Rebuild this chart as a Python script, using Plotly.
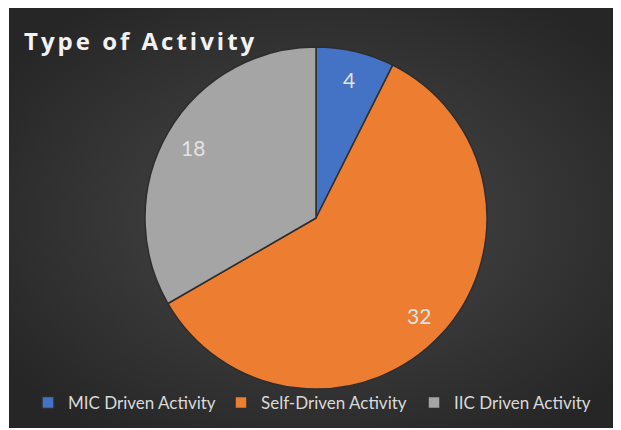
import base64
import math
import plotly.graph_objects as go

categories = ["MIC Driven Activity", "Self-Driven Activity", "IIC Driven Activity"]
values = [4, 32, 18]
colors = ["#4472C4", "#ED7D31", "#A5A5A5"]
title_text = "Type of Activity"

W, H = 621, 430

svg = (
    '<svg xmlns="http://www.w3.org/2000/svg" width="620" height="420">'
    '<defs><radialGradient id="g" cx="50%" cy="50%" r="62%">'
    '<stop offset="0" stop-color="#4a4a4a"/><stop offset="1" stop-color="#262626"/>'
    '</radialGradient></defs><rect width="620" height="420" fill="url(#g)"/></svg>'
)
bg_src = "data:image/svg+xml;base64," + base64.b64encode(svg.encode()).decode()

# pie domain (figure pixels)
px0, px1 = 136, 480
py_top, py_bot = 39, 381
dom_x = [px0 / W, px1 / W]
dom_y = [(H - py_bot) / H, (H - py_top) / H]

fig = go.Figure(
    go.Pie(
        labels=categories,
        values=values,
        sort=False,
        direction="clockwise",
        rotation=0,
        marker=dict(colors=colors, line=dict(color="#2e2e2e", width=1.5)),
        textinfo="none",
        domain=dict(x=dom_x, y=dom_y),
        showlegend=True,
        hoverinfo="label+value",
    )
)

# value labels placed from the data (slice mid-angles)
cx = (px0 + px1) / 2
cy = (py_top + py_bot) / 2
r = min(px1 - px0, py_bot - py_top) / 2
total = sum(values)
cum = 0
annotations = []
for v in values:
    mid = (cum + v / 2) / total * 2 * math.pi
    cum += v
    x = cx + 0.83 * r * math.sin(mid)
    y = cy - 0.83 * r * math.cos(mid)
    annotations.append(
        dict(
            text=str(v),
            x=x / W,
            y=1 - y / H,
            xref="paper",
            yref="paper",
            xanchor="center",
            yanchor="middle",
            showarrow=False,
            font=dict(family="Lato", size=21, color="#e3e3e3"),
        )
    )

annotations.append(
    dict(
        text=f'<b><span style="letter-spacing:3px">{title_text}</span></b>',
        x=14 / W,
        y=1 - 32 / H,
        xref="paper",
        yref="paper",
        xanchor="left",
        yanchor="middle",
        showarrow=False,
        font=dict(family="Open Sans", size=24, color="#f2f2f2"),
    )
)

fig.update_layout(
    width=W,
    height=H,
    margin=dict(l=0, r=0, t=0, b=0),
    paper_bgcolor="white",
    plot_bgcolor="rgba(0,0,0,0)",
    annotations=annotations,
    legend=dict(
        orientation="h",
        x=20 / W,
        xanchor="left",
        y=1 - 395 / H,
        yanchor="middle",
        font=dict(family="Lato", size=17, color="#d9d9d9"),
        bgcolor="rgba(0,0,0,0)",
        traceorder="normal",
        entrywidth=148,
    ),
    images=[
        dict(
            source=bg_src,
            xref="paper",
            yref="paper",
            x=1 / W,
            y=1,
            sizex=620 / W,
            sizey=420 / H,
            xanchor="left",
            yanchor="top",
            sizing="stretch",
            layer="below",
        )
    ],
)

fig.write_html("out.html")
